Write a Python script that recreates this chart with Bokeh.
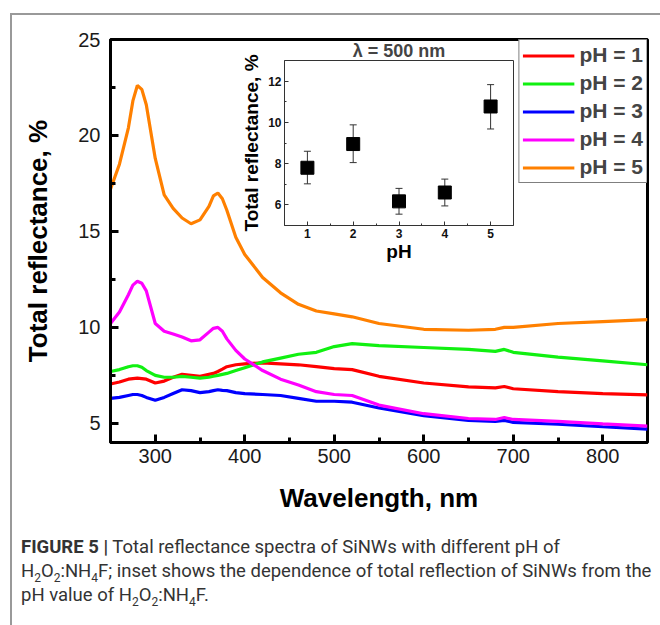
from bokeh.plotting import figure
from bokeh.models import (Range1d, Legend, LegendItem, Div, ColumnDataSource,
                          Whisker, FixedTicker, TeeHead)
from bokeh.layouts import column
from bokeh.embed import file_html
from bokeh.resources import INLINE

# ---------------- data ----------------
wavelength = [250, 260, 270, 275, 280, 285, 290, 300, 310, 320, 330, 340, 350, 360,
              365, 370, 375, 380, 390, 400, 420, 440, 460, 480, 500, 520, 550, 600,
              650, 680, 690, 700, 750, 800, 850]
ph1 = [7.05, 7.15, 7.30, 7.33, 7.35, 7.33, 7.30, 7.10, 7.20, 7.40, 7.55, 7.50, 7.45,
       7.55, 7.60, 7.70, 7.82, 7.95, 8.05, 8.10, 8.15, 8.10, 8.05, 7.95, 7.85, 7.80,
       7.45, 7.10, 6.90, 6.85, 6.92, 6.80, 6.65, 6.55, 6.48]
ph2 = [7.70, 7.80, 7.95, 8.00, 8.00, 7.92, 7.75, 7.50, 7.40, 7.40, 7.45, 7.40, 7.35,
       7.40, 7.45, 7.50, 7.55, 7.60, 7.75, 7.90, 8.20, 8.40, 8.60, 8.70, 9.00, 9.15,
       9.05, 8.95, 8.85, 8.75, 8.85, 8.70, 8.45, 8.25, 8.05]
ph3 = [6.30, 6.35, 6.45, 6.50, 6.50, 6.45, 6.35, 6.20, 6.35, 6.55, 6.75, 6.70, 6.60,
       6.65, 6.70, 6.75, 6.72, 6.70, 6.60, 6.55, 6.50, 6.45, 6.30, 6.15, 6.15, 6.10,
       5.80, 5.40, 5.15, 5.10, 5.15, 5.05, 4.95, 4.82, 4.70]
ph4 = [10.2, 10.8, 11.7, 12.2, 12.4, 12.3, 11.9, 10.2, 9.80, 9.65, 9.50, 9.30, 9.35,
       9.75, 9.95, 10.0, 9.80, 9.40, 8.80, 8.35, 7.75, 7.30, 7.00, 6.65, 6.50, 6.45,
       5.95, 5.50, 5.25, 5.20, 5.30, 5.20, 5.10, 4.97, 4.85]
ph5 = [17.2, 18.5, 20.4, 21.8, 22.6, 22.4, 21.6, 18.8, 16.9, 16.2, 15.7, 15.4, 15.6,
       16.3, 16.85, 17.0, 16.7, 16.1, 14.7, 13.8, 12.6, 11.8, 11.2, 10.85, 10.7, 10.55,
       10.2, 9.90, 9.85, 9.90, 10.0, 10.0, 10.2, 10.3, 10.4]
series = [ph1, ph2, ph3, ph4, ph5]
series_labels = ["pH = 1", "pH = 2", "pH = 3", "pH = 4", "pH = 5"]
series_colors = ["#ff0000", "#11f011", "#0000ff", "#ff00ff", "#ff8000"]

x_ticks = [300, 400, 500, 600, 700, 800]
x_minor = [350, 450, 550, 650, 750]
y_ticks = [5, 10, 15, 20, 25]
y_minor = [7.5, 12.5, 17.5, 22.5]

inset_ph = [1, 2, 3, 4, 5]
inset_refl = [7.80, 8.95, 6.17, 6.60, 10.77]
inset_low = [7.02, 8.05, 5.55, 5.95, 9.68]
inset_high = [8.60, 9.88, 6.80, 7.25, 11.83]
inset_x_ticks = [1, 2, 3, 4, 5]
inset_x_minor = [1.5, 2.5, 3.5, 4.5]
inset_y_ticks = [6, 8, 10, 12]
inset_y_minor = [7, 9, 11]

FONT = "Liberation Sans"

# ---------------- main plot ----------------
p = figure(width=648, height=500, x_range=Range1d(250, 850), y_range=Range1d(4, 25),
           output_backend="svg", toolbar_location=None,
           min_border_left=98, min_border_right=13, min_border_top=24,
           min_border_bottom=72, x_axis_label="Wavelength, nm",
           y_axis_label="Total reflectance, %")
p.frame_align = False
p.grid.visible = False
p.outline_line_color = "black"
p.outline_line_width = 3
p.border_fill_color = "white"
p.xaxis.ticker = FixedTicker(ticks=x_ticks, minor_ticks=x_minor)
p.yaxis.ticker = FixedTicker(ticks=y_ticks, minor_ticks=y_minor)
for ax in (p.xaxis[0], p.yaxis[0]):
    ax.axis_line_width = 3
    ax.major_tick_line_width = 3
    ax.minor_tick_line_width = 3
    ax.major_tick_in = 8
    ax.major_tick_out = 0
    ax.minor_tick_in = 5
    ax.minor_tick_out = 0
    ax.major_label_text_font = FONT
    ax.major_label_text_font_size = "20px"
    ax.major_label_text_color = "#1a1a1a"
    ax.axis_label_text_font = FONT
    ax.axis_label_text_font_size = "26px"
    ax.axis_label_text_font_style = "bold"
    ax.axis_label_text_color = "black"
p.xaxis.major_label_standoff = 6
p.xaxis.axis_label_standoff = 17
p.yaxis.major_label_standoff = 10
p.yaxis.axis_label_standoff = 22

items = []
for vals, lab, col in zip(series, series_labels, series_colors):
    r = p.line(wavelength, vals, line_color=col, line_width=3.2)
    items.append(LegendItem(label=lab, renderers=[r]))
legend = Legend(items=items, location="top_right", margin=0, padding=3, spacing=4,
                glyph_width=52, glyph_height=21, label_height=21, label_standoff=5,
                label_text_font=FONT, label_text_font_size="21px",
                label_text_font_style="bold", border_line_color="black",
                border_line_width=1, background_fill_alpha=1)
p.add_layout(legend)

# ---------------- inset ----------------
ins = figure(width=282, height=230, x_range=Range1d(0.5, 5.5), y_range=Range1d(5, 13),
             output_backend="svg", toolbar_location=None,
             min_border_left=43, min_border_right=7, min_border_top=18,
             min_border_bottom=43, title="λ = 500 nm",
             x_axis_label="pH", y_axis_label="Total reflectance, %")
ins.frame_align = False
ins.border_fill_alpha = 0
ins.background_fill_color = "white"
ins.grid.visible = False
ins.outline_line_color = "#333333"
ins.outline_line_width = 1
ins.title.align = "center"
ins.title.text_font = FONT
ins.title.text_font_size = "18px"
ins.title.text_font_style = "bold"
ins.title.standoff = 0
ins.xaxis.ticker = FixedTicker(ticks=inset_x_ticks, minor_ticks=inset_x_minor)
ins.yaxis.ticker = FixedTicker(ticks=inset_y_ticks, minor_ticks=inset_y_minor)
for ax in (ins.xaxis[0], ins.yaxis[0]):
    ax.axis_line_color = "#333333"
    ax.axis_line_width = 1
    ax.major_tick_line_color = "#333333"
    ax.minor_tick_line_color = "#333333"
    ax.major_tick_in = 4
    ax.major_tick_out = 0
    ax.minor_tick_in = 2
    ax.minor_tick_out = 0
    ax.major_label_text_font = FONT
    ax.major_label_text_font_size = "12px"
    ax.major_label_text_font_style = "bold"
    ax.major_label_text_color = "#111111"
    ax.axis_label_text_font = FONT
    ax.axis_label_text_font_size = "19px"
    ax.axis_label_text_font_style = "bold"
    ax.axis_label_text_color = "black"
ins.xaxis.major_label_standoff = 3
ins.xaxis.axis_label_standoff = 0
ins.yaxis.major_label_standoff = 3
ins.yaxis.axis_label_standoff = 3

src = ColumnDataSource(dict(ph=inset_ph, refl=inset_refl, lo=inset_low, hi=inset_high))
ins.add_layout(Whisker(source=src, base="ph", upper="hi", lower="lo",
                       line_color="#333333", line_width=1,
                       upper_head=TeeHead(size=7, line_color="#333333"),
                       lower_head=TeeHead(size=7, line_color="#333333")))
ins.scatter("ph", "refl", source=src, marker="square", size=13, color="black")

# ---------------- caption ----------------
SUB = "<sub style='font-size:12px;line-height:0'>"
cap_html = (
    "<div style=\"font-family:Roboto; font-size:18.5px; line-height:24px; color:#333;"
    " white-space:nowrap;\">"
    "<b>FIGURE 5 |</b> Total reflectance spectra of SiNWs with different pH of<br>"
    "H" + SUB + "2</sub>O" + SUB + "2</sub>:NH" + SUB + "4</sub>F; inset shows the "
    "dependence of total reflection of SiNWs from the<br>"
    "pH value of H" + SUB + "2</sub>O" + SUB + "2</sub>:NH" + SUB + "4</sub>F.</div>"
)
cap = Div(text=cap_html, width=640, height=80)

ins.margin = (-477, 0, 0, 226)
cap.margin = (520 - (23 + 230), 0, 0, 9)
p.margin = (0, 0, 0, 0)

root = column(p, ins, cap, margin=(13, 0, 0, 10),
              styles={"border-top": "2px solid #999999",
                      "border-left": "2px solid #999999",
                      "min-height": "620px", "width": "650px"})

open("out.html", "w").write(file_html(root, INLINE))
